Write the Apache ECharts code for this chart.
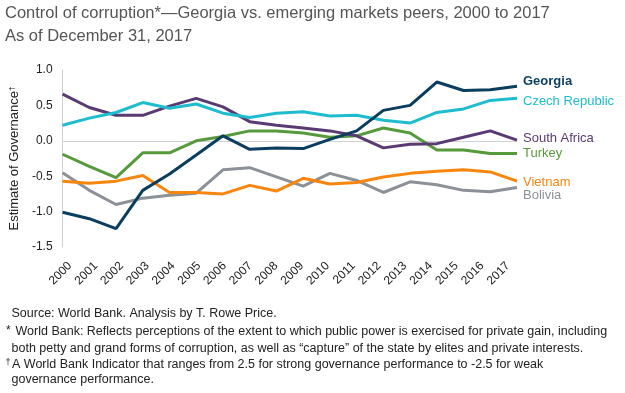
<!DOCTYPE html>
<html>
<head>
<meta charset="utf-8">
<script src="https://cdn.jsdelivr.net/npm/echarts@6/dist/echarts.min.js"></script>
<style>
html,body{margin:0;padding:0;background:#fff;}
#c{width:625px;height:393px;}
</style>
</head>
<body>
<div id="c"></div>
<script>
const years = ['2000','2001','2002','2003','2004','2005','2006','2007','2008','2009','2010','2011','2012','2013','2014','2015','2016','2017'];
const georgia = [-1.01,-1.10,-1.24,-0.70,-0.47,-0.20,0.07,-0.12,-0.10,-0.11,0.02,0.14,0.43,0.50,0.83,0.71,0.72,0.77];
const czechRepublic = [0.22,0.32,0.40,0.54,0.46,0.52,0.39,0.33,0.39,0.41,0.35,0.36,0.29,0.25,0.40,0.45,0.57,0.60];
const southAfrica = [0.66,0.47,0.36,0.36,0.49,0.60,0.48,0.27,0.22,0.18,0.14,0.07,-0.10,-0.05,-0.04,0.05,0.14,0.01];
const turkey = [-0.19,-0.36,-0.52,-0.17,-0.17,0.00,0.06,0.14,0.14,0.11,0.05,0.07,0.18,0.11,-0.13,-0.13,-0.18,-0.18];
const vietnam = [-0.57,-0.60,-0.57,-0.49,-0.73,-0.73,-0.75,-0.63,-0.71,-0.53,-0.61,-0.59,-0.51,-0.46,-0.43,-0.41,-0.44,-0.57];
const bolivia = [-0.45,-0.70,-0.90,-0.81,-0.77,-0.74,-0.41,-0.38,-0.51,-0.64,-0.46,-0.56,-0.73,-0.58,-0.62,-0.70,-0.72,-0.66];

const titleLines = ['Control of corruption*\u2014Georgia vs. emerging markets peers, 2000 to 2017', 'As of December 31, 2017'];
const sourceNote = 'Source: World Bank. Analysis by T. Rowe Price.';
const starNote = ['World Bank: Reflects perceptions of the extent to which public power is exercised for private gain, including',
  'both petty and grand forms of corruption, as well as \u201ccapture\u201d of the state by elites and private interests.'];
const daggerNote = ['A World Bank Indicator that ranges from 2.5 for strong governance performance to -2.5 for weak',
  'governance performance.'];

const FONT = '"Liberation Sans", Arial, Helvetica, sans-serif';
const chart = echarts.init(document.getElementById('c'));

function line(name, data, color, dy, bold) {
  return {
    name: name, type: 'line', data: data, xAxisIndex: 0, yAxisIndex: 0,
    symbol: 'none', lineStyle: {color: color, width: 3}, itemStyle: {color: color},
    endLabel: {show: true, formatter: name, color: color, fontSize: 13, fontFamily: FONT,
      fontWeight: bold ? 'bold' : 'normal', distance: 6, offset: [0, dy]},
    emphasis: {disabled: true}
  };
}
function txt(s, x, y, size, color) {
  return {type: 'text', x: x, y: y, silent: true,
    style: {text: s, fontSize: size, fontFamily: FONT, fill: color || '#222', verticalAlign: 'middle', align: 'left'}};
}

chart.setOption({
  animation: false,
  graphic: [
    txt(titleLines[0], 5, 13, 16.5, '#555'),
    txt(titleLines[1], 5, 36.5, 16.5, '#555'),
    txt(sourceNote, 11.5, 313.5, 12.5),
    txt('*', 6, 331, 12),
    txt(starNote[0], 15.5, 332, 12.5),
    txt(starNote[1], 11.5, 348.5, 12.5),
    txt('\u2020', 5.5, 362.5, 9),
    txt(daggerNote[0], 12, 364.5, 12.5),
    txt(daggerNote[1], 11.5, 380, 12.5)
  ],
  grid: [
    {left: 53, right: 108, top: 70, bottom: 146},
    {left: 70, right: 117, top: 70, bottom: 146}
  ],
  xAxis: [
    {type: 'category', data: years, gridIndex: 0, boundaryGap: false,
     axisLine: {lineStyle: {color: '#d0d0d0', width: 1}}, axisTick: {show: false}, axisLabel: {show: false}},
    {type: 'category', data: years, gridIndex: 1, boundaryGap: false,
     axisLine: {show: false}, axisTick: {show: false},
     axisLabel: {rotate: 45, margin: 17, fontSize: 12, color: '#222', fontFamily: FONT, interval: 0}}
  ],
  yAxis: [
    {type: 'value', gridIndex: 0, min: -1.5, max: 1.0, interval: 0.5,
     name: 'Estimate of Governance{s|\u2020}', nameLocation: 'middle', nameGap: 38, nameRotate: 90,
     nameTextStyle: {fontSize: 13, color: '#222', fontFamily: FONT,
       rich: {s: {fontSize: 8, color: '#222', fontFamily: FONT, verticalAlign: 'top'}}},
     axisLine: {show: true, lineStyle: {color: '#d0d0d0', width: 1}}, axisTick: {show: false}, splitLine: {show: false},
     axisLabel: {fontSize: 12, color: '#222', fontFamily: FONT, margin: 10, formatter: v => v.toFixed(1)}},
    {type: 'value', gridIndex: 1, show: false, min: -1.5, max: 1.0}
  ],
  series: [
    line('Bolivia', bolivia, '#8c9198', 8, false),
    line('Vietnam', vietnam, '#f8860e', 1, false),
    line('Turkey', turkey, '#579a3c', 0, false),
    line('South Africa', southAfrica, '#5a3a72', -2, false),
    line('Czech Republic', czechRepublic, '#1dbccf', 3, false),
    line('Georgia', georgia, '#0b3d5e', -5, true)
  ]
});
</script>
</body>
</html>
